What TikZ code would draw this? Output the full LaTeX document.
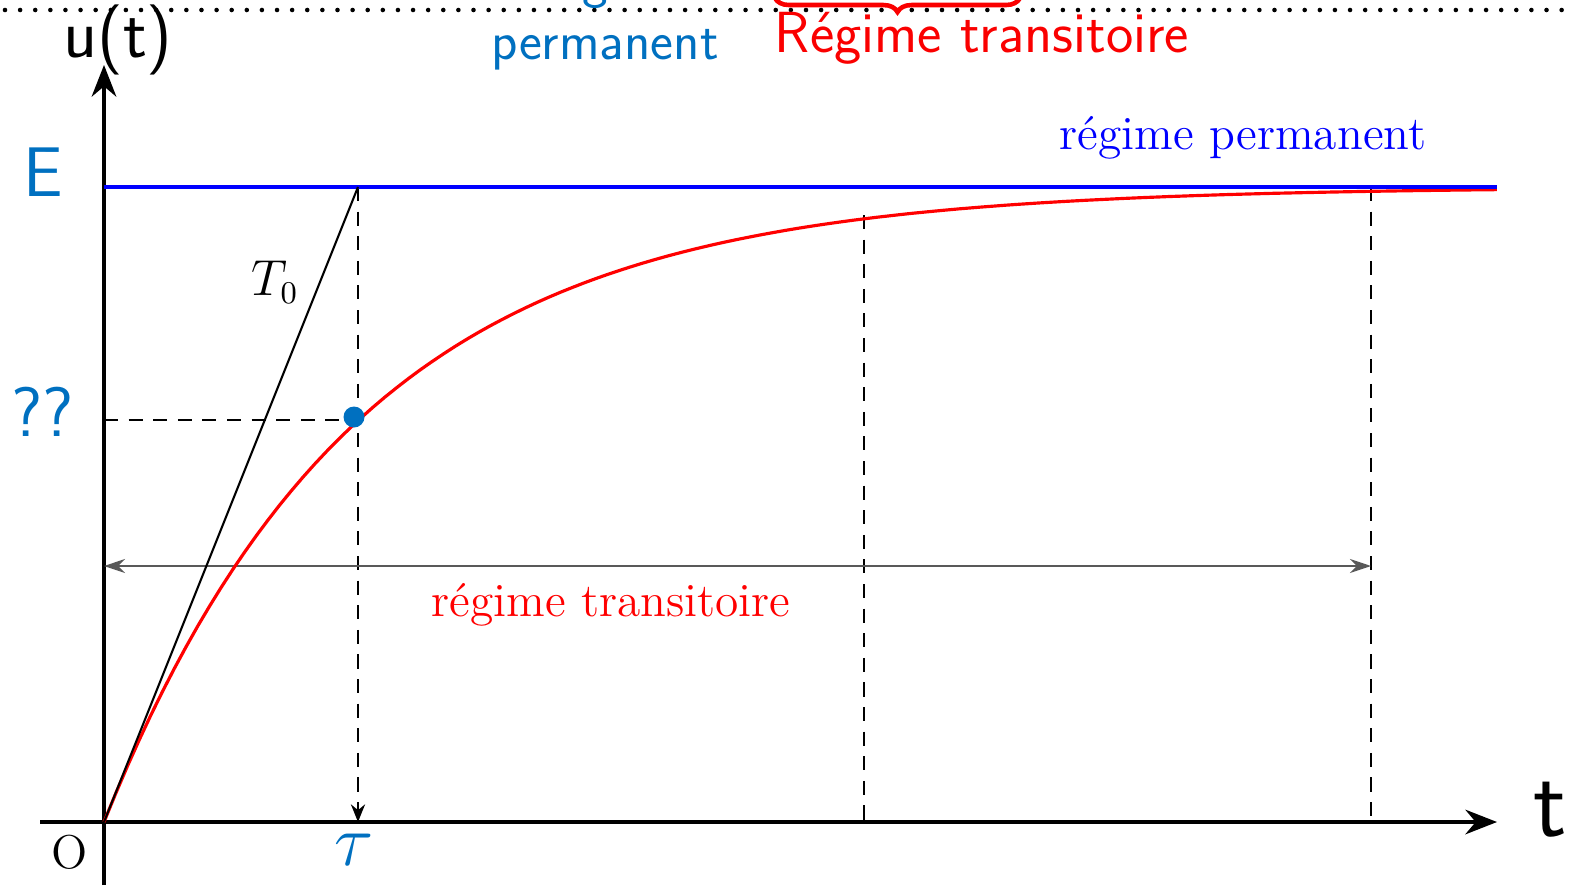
\documentclass[tikz,border=0pt]{standalone}
\usepackage{amsmath}
\usepackage{tikz}
\usetikzlibrary{arrows.meta,positioning,calc,decorations.pathreplacing}
\definecolor{inkblue}{RGB}{0,112,192}
\definecolor{inkred}{RGB}{250,0,0}

\tikzset{
  axisline/.style={line width=1.1pt,-{Stealth[length=9pt,width=7pt]}},
  guide/.style={line width=0.7pt,dash pattern=on 4pt off 3pt},
  printlbl/.style={font=\fontsize{13.5}{16}\selectfont},
  inklbl/.style={inkblue,font=\sffamily\fontsize{20}{22}\selectfont},
  inknote/.style={inkblue,font=\sffamily\fontsize{15.5}{18}\selectfont},
}

\begin{document}
\begin{tikzpicture}
  \useasboundingbox (0,0) rectangle (15.71,-8.89);
  \clip (0,0) rectangle (15.71,-8.89);
  % reference points
  \coordinate (O) at (1.04,-8.22);
  \coordinate (xstart) at (0.40,-8.22);
  \coordinate (xend) at (14.97,-8.22);
  \coordinate (ystart) at (1.04,-8.85);
  \coordinate (yend) at (1.04,-0.65);
  \coordinate (E0) at (1.04,-1.87);
  \coordinate (Eend) at (14.97,-1.87);
  \coordinate (Etau) at (3.58,-1.87);
  \coordinate (tau) at (3.58,-8.22);
  \coordinate (Yq) at (1.04,-4.20);
  \coordinate (Pt) at (3.58,-4.20);
  \coordinate (t3top) at (8.64,-2.15);
  \coordinate (t3bot) at (8.64,-8.22);
  \coordinate (t5top) at (13.71,-1.87);
  \coordinate (t5bot) at (13.71,-8.22);
  \coordinate (trL) at (1.04,-5.66);
  \coordinate (trR) at (13.71,-5.66);
  \coordinate (ruleL) at (0.05,-0.10);
  \coordinate (ruleR) at (15.71,-0.10);
  \coordinate (braceR) at (10.20,0.02);
  \coordinate (braceL) at (7.75,0.02);
  % dotted ruling of the page
  \draw[line width=1.3pt,line cap=round,dash pattern=on 0pt off 4.3pt] (ruleL) -- (ruleR);
  % axes
  \draw[axisline] (xstart) -- (xend);
  \draw[axisline] (ystart) -- (yend);
  % guides
  \draw[guide,-{Stealth[length=5pt,width=4pt]}] (Etau) -- (tau);
  \draw[guide] (Yq) -- (Pt);
  \draw[guide] (t3top) -- (t3bot);
  \draw[guide] (t5top) -- (t5bot);
  \draw[black!65,line width=0.45pt,{Stealth[length=6pt,width=4pt]}-{Stealth[length=6pt,width=4pt]}] (trL) -- (trR);
  % charge curve
  \draw[red,line width=0.9pt] plot[domain=0:13.93,samples=120]
    ({1.04+\x},{-8.22+6.35*(1-exp(-\x/2.54))});
  % asymptote and tangent
  \draw[blue,line width=1.1pt] (E0) -- (Eend);
  \draw[line width=0.6pt] (O) -- (Etau);
  \node[circle,fill=inkblue,inner sep=0pt,minimum size=0.21cm] (dot) at (3.54,-4.17) {};
  % printed labels
  \node[printlbl,blue] (perm) at (12.43,-1.38) {régime permanent};
  \node[printlbl,red] (trans) at (6.11,-6.05) {régime transitoire};
  \node[printlbl] (T0) at (2.75,-2.82) {$T_0$};
  \node[printlbl] (Olbl) at (0.70,-8.52) {O};
  % handwritten notes
  \node[inklbl] (Elbl) at (0.43,-1.72) {E};
  \node[inklbl] (qlbl) at (0.43,-4.12) {??};
  \node[inklbl] (taulbl) at (3.54,-8.50) {$\tau$};
  \node[inklbl,black] (ulbl) at (1.18,-0.40) {u(t)};
  \node[inklbl,black,font=\sffamily\fontsize{28}{30}\selectfont] (tlbl) at (15.50,-8.10) {t};
  \node[inknote,anchor=base,inner sep=0pt] (reghand) at (6.05,0.02) {Régime};
  \node[inknote] (permhand) at (6.05,-0.50) {permanent};
  \node[inknote,inkred,font=\sffamily\fontsize{16.5}{18}\selectfont] (transhand) at (9.82,-0.38) {Régime transitoire};
  \draw[inkred,line width=1.3pt,decorate,decoration={brace,amplitude=4pt}] (braceR) -- (braceL);
\end{tikzpicture}
\end{document}
